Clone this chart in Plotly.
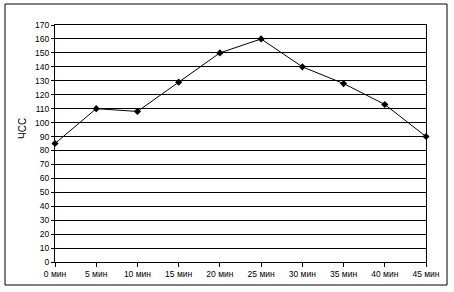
import plotly.graph_objects as go

categories = ["0 мин", "5 мин", "10 мин", "15 мин", "20 мин", "25 мин", "30 мин", "35 мин", "40 мин", "45 мин"]
hr_values = [85, 110, 108, 129, 150, 160, 140, 128, 113, 90]
y_tick_vals = list(range(0, 171, 10))
y_title = "ЧСС"

W, H = 454, 292
L, R, T, B = 55, 426, 25, 262  # plot area in pixels

def px(x):
    return (x - L) / (R - L)

def py(y):
    return (B - y) / (B - T)

fig = go.Figure()
fig.add_trace(go.Scatter(
    x=list(range(len(categories))), y=hr_values, mode="lines+markers",
    line=dict(color="black", width=1),
    marker=dict(symbol="diamond", size=5.5, color="black"),
    cliponaxis=False, showlegend=False,
))

font = dict(family="Liberation Sans, Arial, sans-serif", size=8.5, color="black")

fig.update_layout(
    width=W, height=H,
    margin=dict(l=L, r=W - R, t=T, b=H - B, pad=0),
    paper_bgcolor="white", plot_bgcolor="white",
    font=font,
    xaxis=dict(
        range=[0, len(categories) - 1],
        tickmode="array", tickvals=list(range(len(categories))), ticktext=categories,
        showgrid=False, zeroline=False,
        showline=True, linecolor="black", linewidth=1, mirror=True,
        ticks="outside", ticklen=4, tickcolor="black", tickwidth=1,
        tickfont=font, fixedrange=True,
    ),
    yaxis=dict(
        range=[0, 170],
        tickmode="array", tickvals=y_tick_vals,
        showgrid=True, gridcolor="black", gridwidth=1, zeroline=False,
        showline=True, linecolor="black", linewidth=1, mirror=True,
        ticks="outside", ticklen=3, tickcolor="black", tickwidth=1,
        tickfont=font, fixedrange=True,
    ),
    shapes=[dict(
        type="rect", xref="paper", yref="paper",
        x0=px(5), x1=px(447), y0=py(285), y1=py(4),
        line=dict(color="black", width=1), fillcolor="rgba(0,0,0,0)", layer="below",
    )],
    annotations=[dict(
        text=y_title, xref="paper", yref="paper",
        x=px(22), y=py(129), xanchor="center", yanchor="middle",
        showarrow=False, textangle=-90,
        font=dict(family="Liberation Sans, Arial, sans-serif", size=10, color="black"),
    )],
)

fig.write_html("out.html")
